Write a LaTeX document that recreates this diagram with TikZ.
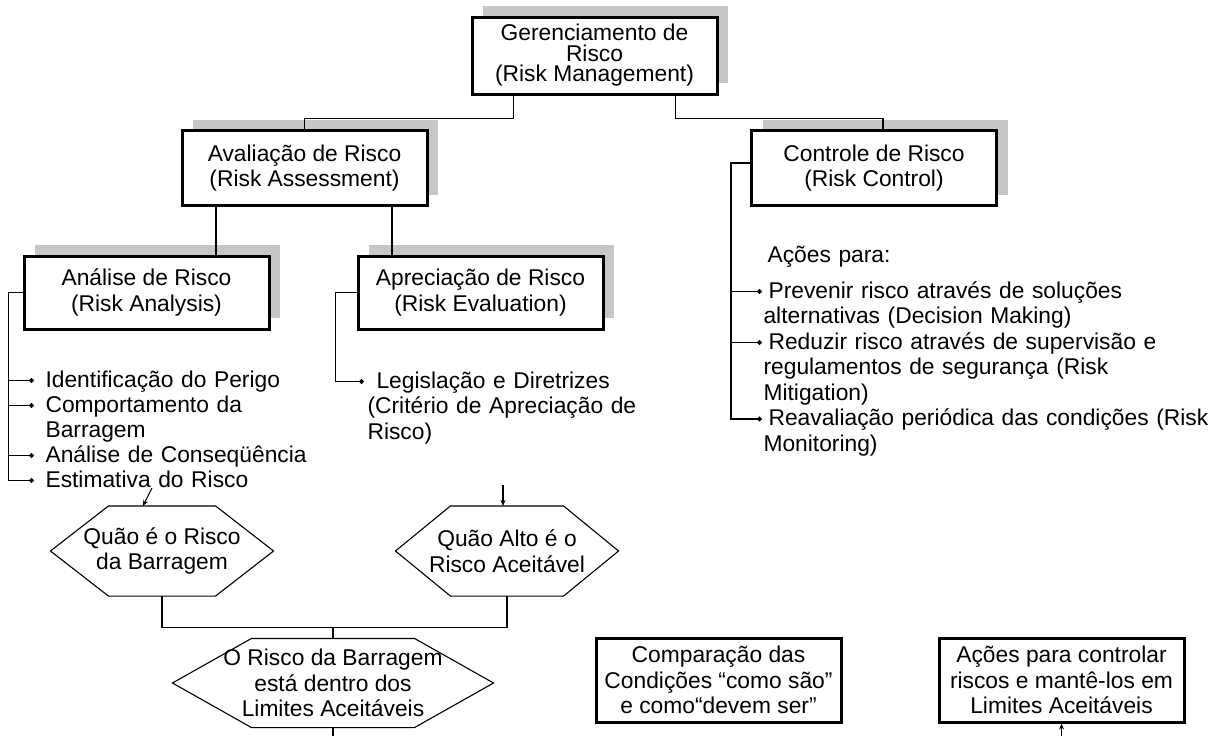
\documentclass[tikz,border=0pt]{standalone}
\usepackage{fontspec}
\setmainfont{Liberation Sans}
\usetikzlibrary{arrows.meta,shadows}
\newcommand{\HEX}[2]{% hexagon round node #1, inset #2
  \draw (#1.west) -- ([xshift=#2]#1.north west) -- ([xshift=-#2]#1.north east) -- (#1.east)
     -- ([xshift=-#2]#1.south east) -- ([xshift=#2]#1.south west) -- cycle;}

\begin{document}
\begin{tikzpicture}[x=1pt, y=-1pt, line width=1.1pt,
  font=\fontsize{22.8}{25.5}\selectfont,
  >={Stealth[length=6pt,width=5pt]},
  box/.style={draw, line width=3pt, fill=white, align=center, inner sep=0pt,
    minimum width=245pt, minimum height=75pt,
    drop shadow={shadow xshift=11pt, shadow yshift=11pt, fill=black!22, opacity=1}},
  note/.style={draw, line width=3pt, align=center, inner sep=0pt,
    minimum width=245pt, minimum height=84pt},
  hexn/.style={align=center, inner sep=0pt, minimum height=89pt},
  item/.style={anchor=base west, align=left, text width=470pt, inner xsep=11pt, inner ysep=0pt},
  dot/.style={-{Circle[length=5pt]}}]

  \useasboundingbox (0,0) rectangle (1218,736);

  % boxes
  \node[box, minimum height=77pt, font=\fontsize{22.8}{20.5}\selectfont] (ger) at (594.5,55.5)
    {Gerenciamento de\\Risco\\(Risk Management)};
  \node[box] (aval) at (304.5,168) {Avaliação de Risco\\(Risk Assessment)};
  \node[box] (ctrl) at (874,168) {Controle de Risco\\(Risk Control)};
  \node[box, minimum height=73pt] (ana) at (146.5,292.5) {Análise de Risco\\(Risk Analysis)};
  \node[box, minimum height=73pt] (aprec) at (480.5,292.5) {Apreciação de Risco\\(Risk Evaluation)};

  \draw ([xshift=-81pt]ger.south) -- ++(0,23) -| (aval.north); %% ger->aval
  \draw ([xshift=81pt]ger.south) -- ++(0,23) -| ([xshift=9pt]ctrl.north); %% ger->ctrl
  \draw ([xshift=-88.5pt]aval.south) -- ([xshift=-88.5pt]aval.south |- ana.north); %% aval->ana
  \draw ([xshift=87.5pt]aval.south) -- ([xshift=87.5pt]aval.south |- aprec.north); %% aval->aprec

  % lists
  \node[item] (ident) at (34,387) {Identificação do Perigo};
  \node[item] (comp) at (34,412) {Comportamento da\\Barragem};
  \node[item] (cons) at (34,462) {Análise de Conseqüência};
  \node[item] (estim) at (34,487) {Estimativa do Risco};
  \foreach \n in {ident,comp,cons,estim}
    \draw[dot] (ana.west) -- ++(-14,0) |- ([yshift=6.5pt]\n.base west);

  \node[item, inner xsep=3pt] (legis) at (364,388)
    {\hspace*{9pt}Legislação e Diretrizes\\(Critério de Apreciação de\\Risco)};
  \draw[dot] (aprec.west) -- ++(-21,0) |- ([yshift=6.5pt]legis.base west);

  \node[item, inner xsep=0pt] (acoes) at (767,262) {Ações para:};
  \node[item, inner xsep=1pt] (prev) at (762,298)
    {\hspace*{5pt}Prevenir risco através de soluções\\alternativas (Decision Making)};
  \node[item, inner xsep=1pt] (red) at (762,349)
    {\hspace*{5pt}Reduzir risco através de supervisão e\\regulamentos de segurança (Risk\\Mitigation)};
  \node[item, inner xsep=1pt] (reav) at (762,425.5)
    {\hspace*{5pt}Reavaliação periódica das condições (Risk\\Monitoring)};
  \foreach \n in {prev,red,reav}
    \draw[dot] ([yshift=5pt]ctrl.west) -- ++(-19,0) |- ([yshift=6.5pt]\n.base west);

  % hexagons
  \node[hexn, minimum width=222pt] (qa) at (162,551) {Quão é o Risco\\da Barragem};
  \HEX{qa}{58pt}
  \node[hexn, minimum width=222pt] (qb) at (507,551) {Quão Alto é o\\Risco Aceitável};
  \HEX{qb}{55pt}
  \node[hexn, minimum width=320pt, minimum height=88pt] (qc) at (333,683)
    {O Risco da Barragem\\está dentro dos\\Limites Aceitáveis};
  \HEX{qc}{79pt}

  \coordinate (e1) at (152,488);
  \coordinate (e2) at (503,485);
  \draw[->] (e1) -- ([xshift=-19pt]qa.north); %% estim->qa
  \draw[->] (e2) -- (e2 |- qb.north); %% legis->qb
  \draw (qa.south) -- ++(0,31) -| (qc.north); %% qa->qc
  \draw (qb.south) -- ++(0,31) -| (qc.north); %% qb->qc
  \draw (qc.south) -- ++(0,12);

  % bottom boxes
  \node[note] (cmp) at (718.5,680) {Comparação das\\Condições “como são”\\e como“devem ser”};
  \node[note] (ctl) at (1061.5,680) {Ações para controlar\\riscos e mantê-los em\\Limites Aceitáveis};
  \coordinate (b1) at (1061.5,742);
  \draw[->] (b1) -- (ctl.south);
\end{tikzpicture}
\end{document}
